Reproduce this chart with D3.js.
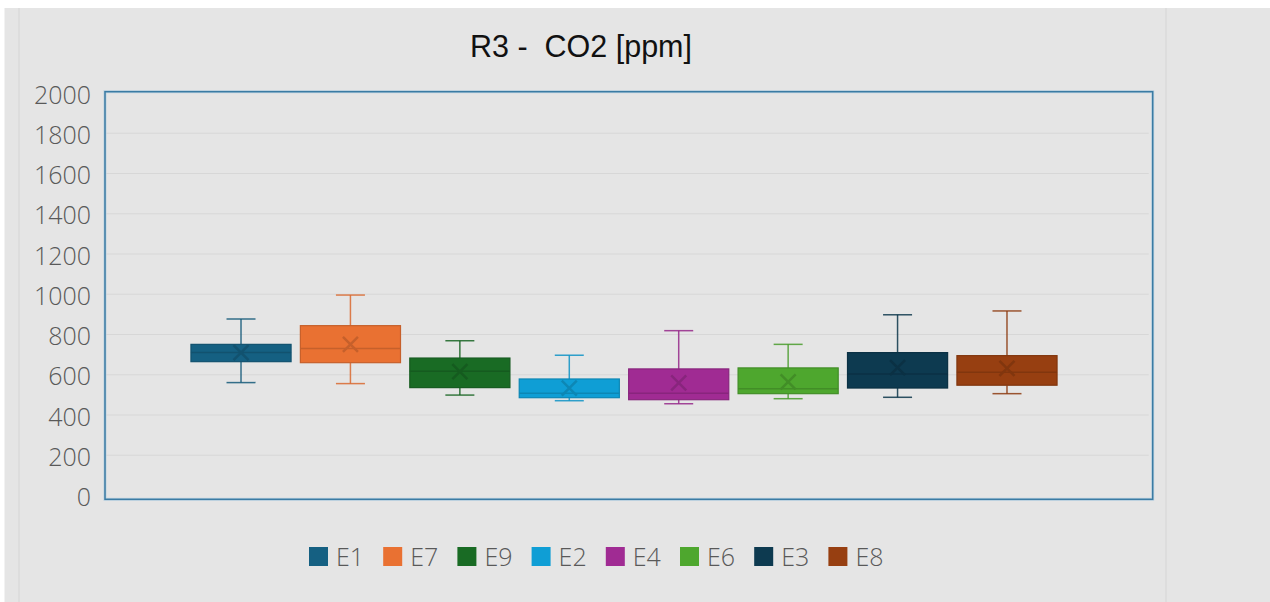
<!DOCTYPE html>
<html>
<head>
<meta charset="utf-8">
<script src="https://cdn.jsdelivr.net/npm/d3@7"></script>
<style>
  html, body { margin: 0; padding: 0; background: #fff; }
  svg { display: block; }
</style>
</head>
<body>
<svg width="1270" height="602"></svg>
<script>
// box plot data
var categories = ['E1', 'E7', 'E9', 'E2', 'E4', 'E6', 'E3', 'E8'];
var colors = ['#156082', '#e97132', '#196b24', '#0f9ed5', '#a02b93', '#4ea72e', '#0d3a50', '#973f11'];
var whiskerLow = [561, 556, 499, 471, 456, 481, 488, 506];
var q1 = [665, 660, 536, 486, 476, 506, 534, 548];
var median = [710, 731, 617, 508, 508, 531, 604, 612];
var q3 = [751, 844, 683, 579, 629, 634, 710, 695];
var whiskerHigh = [877, 996, 769, 697, 819, 751, 898, 917];
var mean = [710, 751, 615, 533, 560, 565, 635, 632];
var yTicks = [0, 200, 400, 600, 800, 1000, 1200, 1400, 1600, 1800, 2000];

var svg = d3.select('svg');
var width = +svg.attr('width');
var height = +svg.attr('height');

// chart background
svg.append('rect').attr('x', 4.5).attr('y', 8).attr('width', width).attr('height', height).attr('fill', '#e5e5e5');
svg.append('line').attr('x1', 19).attr('x2', 19).attr('y1', 8).attr('y2', height).attr('stroke', '#dadada').attr('stroke-width', 1.5);
svg.append('line').attr('x1', 1166).attr('x2', 1166).attr('y1', 8).attr('y2', height).attr('stroke', '#dadada').attr('stroke-width', 1.5);

var frame = { left: 105, top: 91.7, right: 1152.7, bottom: 499.3 };

var y = d3.scaleLinear().domain([0, 2000]).range([495.5, 93]);
var x = d3.scaleBand().domain(categories).range([186.3, 1061.7]).paddingInner(0.085).paddingOuter(0.0425);

// gridlines
svg.append('g').selectAll('line').data(yTicks.filter(function(t) { return t > 0 && t < 2000; }))
  .enter().append('line')
  .attr('x1', frame.left).attr('x2', frame.right - 4)
  .attr('y1', function(d) { return y(d); }).attr('y2', function(d) { return y(d); })
  .attr('stroke', '#d7d7d7').attr('stroke-width', 1.2);

// y axis labels
var yAxis = d3.axisLeft(y).tickValues(yTicks).tickFormat(d3.format('d')).tickSize(0).tickPadding(0);
var gy = svg.append('g').attr('transform', 'translate(91,2)').call(yAxis);
gy.select('.domain').remove();
gy.selectAll('text')
  .attr('fill', '#595959')
  .style('font-family', '"Open Sans", sans-serif')
  .style('font-weight', 300)
  .style('font-size', '25px');

// plot frame
svg.append('rect')
  .attr('x', frame.left).attr('y', frame.top)
  .attr('width', frame.right - frame.left).attr('height', frame.bottom - frame.top)
  .attr('fill', 'none').attr('stroke', '#bcd3e2').attr('stroke-width', 3);
svg.append('rect')
  .attr('x', frame.left).attr('y', frame.top)
  .attr('width', frame.right - frame.left).attr('height', frame.bottom - frame.top)
  .attr('fill', 'none').attr('stroke', '#3b7ba3').attr('stroke-width', 1.5);

var idx = d3.range(categories.length);
var boxes = svg.append('g').selectAll('g.box').data(idx).enter().append('g').attr('class', 'box');

var cx = function(i) { return x(categories[i]) + x.bandwidth() / 2; };
var dark = function(i) { return d3.color(colors[i]).darker(0.45).formatHex(); };
var mid = function(i) { return d3.color(colors[i]).darker(0.2).formatHex(); };

// whiskers
boxes.append('line')
  .attr('x1', cx).attr('x2', cx)
  .attr('y1', function(i) { return y(whiskerHigh[i]); })
  .attr('y2', function(i) { return y(q3[i]); })
  .attr('stroke', mid).attr('stroke-width', 1.5).attr('stroke-opacity', 0.85);
boxes.append('line')
  .attr('x1', cx).attr('x2', cx)
  .attr('y1', function(i) { return y(q1[i]); })
  .attr('y2', function(i) { return y(whiskerLow[i]); })
  .attr('stroke', mid).attr('stroke-width', 1.5).attr('stroke-opacity', 0.85);
['high', 'low'].forEach(function(k) {
  boxes.append('line')
    .attr('x1', function(i) { return cx(i) - 14.5; })
    .attr('x2', function(i) { return cx(i) + 14.5; })
    .attr('y1', function(i) { return y(k === 'high' ? whiskerHigh[i] : whiskerLow[i]); })
    .attr('y2', function(i) { return y(k === 'high' ? whiskerHigh[i] : whiskerLow[i]); })
    .attr('stroke', mid).attr('stroke-width', 1.5).attr('stroke-opacity', 0.85);
});

// boxes
boxes.append('rect')
  .attr('x', function(i) { return x(categories[i]); })
  .attr('y', function(i) { return y(q3[i]); })
  .attr('width', x.bandwidth())
  .attr('height', function(i) { return y(q1[i]) - y(q3[i]); })
  .attr('fill', function(i) { return colors[i]; })
  .attr('stroke', dark).attr('stroke-width', 1.2);

// median
boxes.append('line')
  .attr('x1', function(i) { return x(categories[i]); })
  .attr('x2', function(i) { return x(categories[i]) + x.bandwidth(); })
  .attr('y1', function(i) { return y(median[i]); })
  .attr('y2', function(i) { return y(median[i]); })
  .attr('stroke', dark).attr('stroke-width', 1.5);

// mean marker
boxes.append('path')
  .attr('d', function(i) {
    var px = cx(i), py = y(mean[i]), s = 7.5;
    return 'M' + (px - s) + ',' + (py - s) + 'L' + (px + s) + ',' + (py + s) +
           'M' + (px - s) + ',' + (py + s) + 'L' + (px + s) + ',' + (py - s);
  })
  .attr('stroke', dark).attr('stroke-width', 2.5).attr('fill', 'none');

// title
svg.append('text')
  .attr('x', 581).attr('y', 57)
  .attr('text-anchor', 'middle')
  .attr('fill', '#111')
  .style('font-family', '"Liberation Sans", Arial, sans-serif')
  .style('font-size', '30.5px')
  .style('white-space', 'pre')
  .text('R3 -  CO2 [ppm]');

// legend
var legend = svg.append('g').selectAll('g').data(idx).enter().append('g')
  .attr('transform', function(i) { return 'translate(' + (309 + i * 74.2) + ',547)'; });
legend.append('rect').attr('width', 19).attr('height', 19)
  .attr('fill', function(i) { return colors[i]; });
legend.append('text')
  .attr('x', 27).attr('y', 19)
  .attr('fill', '#595959')
  .style('font-family', '"Open Sans", sans-serif')
  .style('font-weight', 300)
  .style('font-size', '25px')
  .text(function(i) { return categories[i]; });
</script>
</body>
</html>
